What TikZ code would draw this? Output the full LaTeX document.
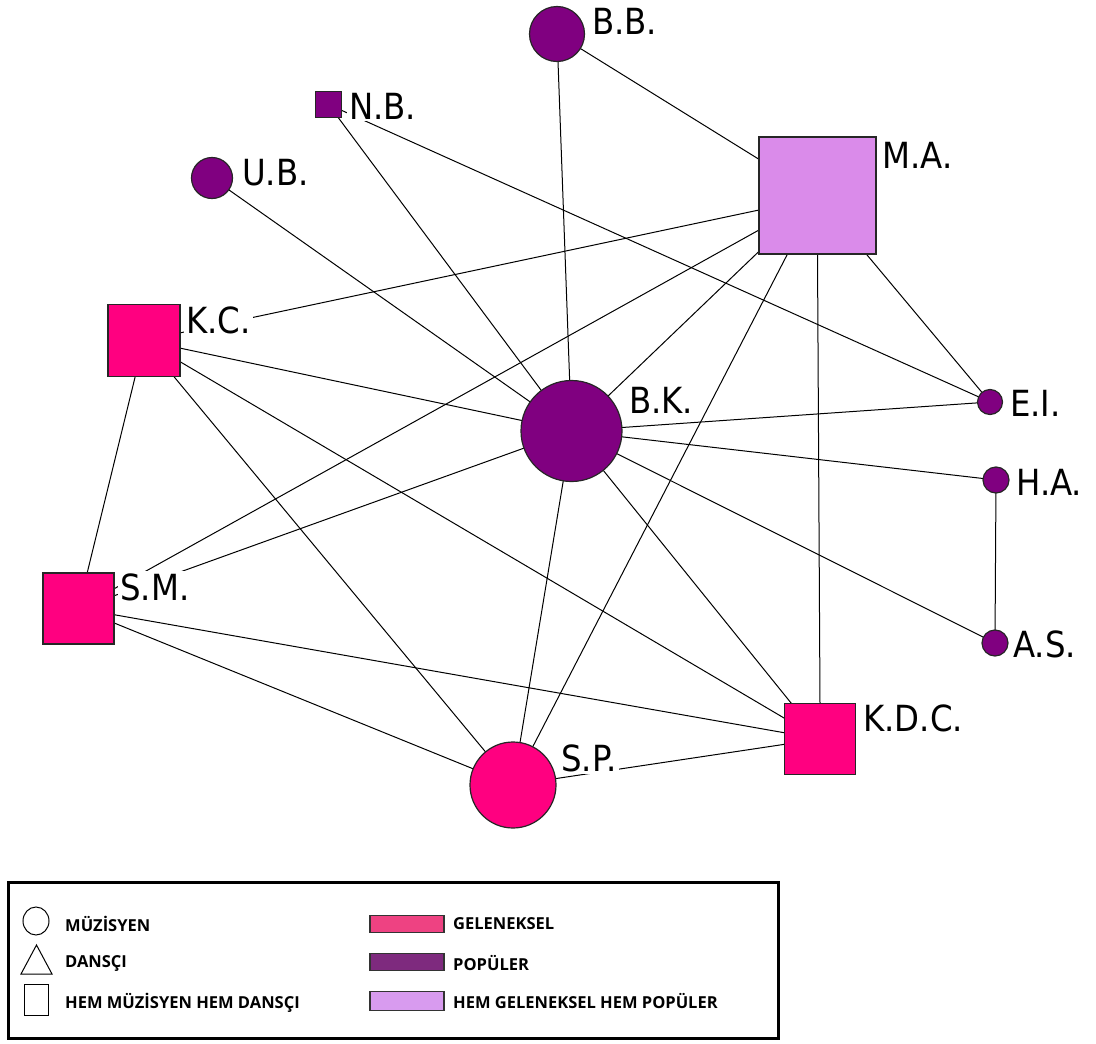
\documentclass[tikz,border=0pt]{standalone}
\usepackage{fontspec}
\setmainfont{DejaVu Sans}
\newfontfamily\lblfont[FakeStretch=0.9]{DejaVu Sans}
\newfontfamily\legfont{Open Sans}
\usetikzlibrary{backgrounds,shapes.geometric}
\definecolor{pop}{RGB}{128,0,128}
\definecolor{trad}{RGB}{255,0,128}
\definecolor{both}{RGB}{218,139,234}
\definecolor{legtrad}{RGB}{238,66,130}
\definecolor{legpop}{RGB}{126,42,126}
\definecolor{legboth}{RGB}{216,155,239}
\tikzset{
  actor/.style={draw=black!85, line width=1.2pt, inner sep=0pt, outer sep=0pt},
  circ/.style={actor, circle, minimum size=#1},
  sq/.style={actor, rectangle, minimum size=#1},
  lbl/.style={anchor=west, fill=white, inner sep=2pt, font=\lblfont\fontsize{36}{40}\selectfont},
  tie/.style={draw=black, line width=1pt},
  legtxt/.style={anchor=west, inner sep=0pt, font=\legfont\bfseries\fontsize{16.5}{18}\selectfont},
  legbar/.style={draw=black!80, line width=1.5pt},
  keyshape/.style={draw=black, line width=1pt}
}
\begin{document}
\begin{tikzpicture}[x=1pt,y=-1pt]
\useasboundingbox (0,0) rectangle (1096,1044);
% actors
\node[circ=55, fill=pop] (BB) at (557,34) {};
\node[sq=26, fill=pop] (NB) at (328.5,104.5) {};
\node[circ=41, fill=pop] (UB) at (212,178) {};
\node[sq=117, fill=both] (MA) at (817.5,195.5) {};
\node[sq=72, fill=trad] (KC) at (144,340.5) {};
\node[circ=101, fill=pop] (BK) at (571.5,431) {};
\node[circ=25, fill=pop] (EI) at (990,402) {};
\node[circ=26, fill=pop] (HA) at (996,480) {};
\node[circ=26, fill=pop] (AS) at (995,643) {};
\node[sq=71, fill=trad] (SM) at (78.5,608.5) {};
\node[sq=71, fill=trad] (KDC) at (820,739) {};
\node[circ=86, fill=trad] (SP) at (513,785) {};
% ties
\begin{pgfonlayer}{background}
\draw[tie] (BB) -- (MA);
\draw[tie] (BB) -- (BK);
\draw[tie] (NB) -- (BK);
\draw[tie] (NB) -- (EI);
\draw[tie] (UB) -- (BK);
\draw[tie] (MA.west |- 0,210) -- (KC);
\draw[tie] (MA.west |- 0,230) -- (SM);
\draw[tie] (MA) -- (BK);
\draw[tie] (MA) -- (SP);
\draw[tie] (MA.south |- 0,254) -- (KDC.north);
\draw[tie] (MA) -- (EI);
\draw[tie] (KC) -- (BK);
\draw[tie] (KC) -- (SM);
\draw[tie] (KC) -- (SP);
\draw[tie] (KC) -- (KDC);
\draw[tie] (BK) -- (SM);
\draw[tie] (BK) -- (EI);
\draw[tie] (BK) -- (HA);
\draw[tie] (BK) -- (AS);
\draw[tie] (BK) -- (SP);
\draw[tie] (BK) -- (KDC);
\draw[tie] (HA) -- (AS);
\draw[tie] (SM) -- (SP);
\draw[tie] (SM) -- (KDC);
\draw[tie] (SP) -- (KDC);
\end{pgfonlayer}
% labels
\node[lbl] (lBB) at (590,21) {B.B.};
\node[lbl] (lNB) at (347,106) {N.B.};
\node[lbl] (lUB) at (240,173) {U.B.};
\node[lbl] (lMA) at (880,155) {M.A.};
\node[lbl] (lKC) at (184,320) {K.C.};
\node[lbl] (lBK) at (627,400) {B.K.};
\node[lbl] (lEI) at (1008,403) {E.I.};
\node[lbl] (lHA) at (1014,482) {H.A.};
\node[lbl] (lAS) at (1011,644) {A.S.};
\node[lbl] (lSM) at (118,587) {S.M.};
\node[lbl] (lKDC) at (861,718) {K.D.C.};
\node[lbl] (lSP) at (559,758) {S.P.};
% legend
\node[draw=black, line width=2.5pt, minimum width=770, minimum height=156, inner sep=0pt] (legend) at (393.5,960.5) {};
\node[keyshape, ellipse, minimum width=26, minimum height=28, inner sep=0pt] (kMus) at (36,921) {};
\draw[keyshape, line join=miter] (21,974) -- (36.5,945) -- (52,974) -- cycle;
\node[keyshape, minimum width=24, minimum height=31, inner sep=0pt] (kBoth) at (36,999.5) {};
\node[legtxt] (tMus) at (65,924) {MÜZİSYEN};
\node[legtxt] (tDan) at (65,963) {DANSÇI};
\node[legtxt] (tBoth) at (65,1003) {HEM MÜZİSYEN HEM DANSÇI};
\node[legbar, fill=legtrad, minimum width=74, minimum height=17, inner sep=0pt] (kTrad) at (407,924) {};
\node[legbar, fill=legpop, minimum width=74, minimum height=17, inner sep=0pt] (kPop) at (407,962) {};
\node[legbar, fill=legboth, minimum width=74, minimum height=19, inner sep=0pt] (kTP) at (407,1001) {};
\node[legtxt] (tTrad) at (453,924) {GELENEKSEL};
\node[legtxt] (tPop) at (453,963) {POPÜLER};
\node[legtxt] (tTP) at (453,1001) {HEM GELENEKSEL HEM POPÜLER};
\end{tikzpicture}
\end{document}
